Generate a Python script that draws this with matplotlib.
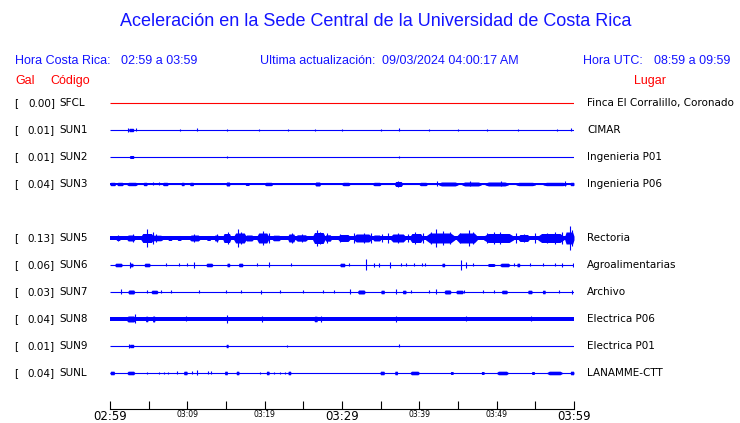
import matplotlib
matplotlib.use('Agg')
import matplotlib.pyplot as plt

# estaciones, de arriba hacia abajo (fila 4 vacia: SUN4 sin datos)
codes = ['SFCL', 'SUN1', 'SUN2', 'SUN3', 'SUN5', 'SUN6', 'SUN7', 'SUN8', 'SUN9', 'SUNL']
gals = [0.00, 0.01, 0.01, 0.04, 0.13, 0.06, 0.03, 0.04, 0.01, 0.04]
places = ['Finca El Corralillo, Coronado', 'CIMAR', 'Ingenieria P01', 'Ingenieria P06',
          'Rectoria', 'Agroalimentarias', 'Archivo', 'Electrica P06', 'Electrica P01',
          'LANAMME-CTT']
rows = [0, 1, 2, 3, 5, 6, 7, 8, 9, 10]
colors = ['red'] + ['blue'] * 9
# ruido de fondo de cada traza (media altura, unidades de traza)
band = [0, 0, 0, 1.0, 1.8, 0, 0, 2.2, 0, 0]

# rafagas: (minuto inicio, minuto fin, media altura)
sfcl_bursts = []
sun1_bursts = [(2.4, 3.1, 1.7)]
sun2_bursts = [(2.5, 3.1, 1.5)]
sun3_bursts = [(0, 0.7, 1.7), (0.9, 1.7, 1.7), (2.2, 3.5, 1.7), (4.3, 4.8, 1.7), (6.8, 7.5, 1.7),
               (9.2, 9.6, 1.7), (10.3, 10.8, 1.7), (15.0, 15.5, 2), (17.5, 18.0, 1.5),
               (20.0, 21.0, 1.7), (26.5, 27.2, 2), (30.0, 31.0, 1.7), (34.0, 35.0, 1.7),
               (36.8, 37.8, 2.5), (40, 41, 1.7), (42.5, 45, 2), (45.5, 48, 2), (48.5, 51.5, 2),
               (52.5, 55, 1.7), (56, 59, 1.7), (59.5, 60, 1.7)]
sun5_bursts = [(0.8, 1.3, 2.5), (2.2, 3.2, 3), (4.0, 5.6, 4.5), (5.2, 6.8, 2.8), (7.5, 8.0, 2.5),
               (8.7, 9.2, 2.5), (10.3, 11.6, 3), (12.5, 13.0, 2.5), (13.5, 14.0, 3),
               (14.6, 15.6, 4.5), (16.0, 17.6, 5), (17.5, 18.5, 3), (19.0, 20.5, 5),
               (21.0, 22.0, 2.8), (23.0, 23.9, 4), (24.0, 25.5, 3.2), (26.2, 27.8, 5.5),
               (27.8, 28.6, 3.2), (29.5, 31.0, 3.5), (31.5, 33.8, 4), (34.0, 35.0, 3),
               (36.3, 38.2, 4), (38.8, 40.4, 4.5), (40.8, 44.6, 5), (44.8, 47.5, 5),
               (48.3, 52.2, 4.5), (52.8, 54.2, 3.5), (55.3, 58.7, 4.5), (58.8, 60.0, 6)]
sun6_bursts = [(0.6, 1.6, 1.8), (2.5, 3.0, 1.8), (4.4, 5.2, 1.8), (12.4, 13.3, 1.8),
               (15.1, 15.5, 1.8), (16.6, 17.2, 1.8), (29.7, 30.4, 1.8), (42.9, 43.3, 1.8),
               (48.8, 49.8, 1.5), (50.4, 51.7, 1.8), (52.6, 53.0, 1.8)]
sun7_bursts = [(2.3, 3.2, 2), (5.3, 6.2, 1.8), (32.0, 33.0, 2), (35.0, 35.5, 1.8),
               (37.8, 38.3, 1.8), (43.2, 44.1, 2), (44.7, 45.7, 1.8), (50.6, 51.4, 1.8),
               (54.0, 54.6, 1.8), (55.9, 56.3, 1.8)]
sun8_bursts = [(2.2, 3.2, 3), (4.6, 4.9, 2.8), (5.5, 5.8, 3), (26.4, 26.8, 2.8)]
sun9_bursts = [(2.5, 3.1, 1.7), (15.0, 15.3, 1.7)]
sunl_bursts = [(0, 0.6, 1.8), (2.2, 3.2, 1.8), (9.5, 10.0, 1.8), (14.8, 15.2, 1.8),
               (16.3, 16.7, 1.8), (20.2, 20.6, 1.8), (23.0, 23.4, 1.8), (34.9, 35.5, 1.8),
               (36.8, 37.2, 1.8), (38.8, 40.0, 1.8), (44.0, 44.4, 1.5), (48.0, 48.4, 1.5),
               (50.0, 51.5, 1.8), (54.5, 54.9, 1.5), (56.5, 58.5, 1.8), (59.5, 60, 1.8)]

# picos: (minuto, media altura)
sfcl_spikes = []
sun1_spikes = [(2.3, 1.7), (3.4, 1.5), (9.1, 1.3), (11.3, 1.5), (15.1, 1.3), (19.3, 1.3),
               (23.0, 1.3), (26.5, 1.3), (30.0, 1.2), (35.0, 1.3), (37.4, 1.5), (41.2, 1.3),
               (45.0, 1.2), (48.8, 1.3), (52.7, 1.3), (57.8, 1.3), (59.6, 1.5)]
sun2_spikes = [(15.1, 1.3), (37.4, 1.3)]
sun3_spikes = [(5.6, 1.5), (6.3, 1.5), (37.3, 3), (42.3, 2.5), (46.5, 2.5), (50.5, 2.5), (58.8, 2.5)]
sun5_spikes = [(1.0, 3), (3.0, 4), (4.8, 9), (5.5, 6), (6.0, 4), (10.8, 4), (13.8, 4), (15.2, 6),
               (16.6, 9), (17.0, 6), (19.8, 7), (20.5, 5), (23.5, 5), (24.8, 4), (26.8, 8),
               (27.2, 6), (28.0, 5), (29.8, 4), (31.5, 5), (32.8, 5), (33.8, 5), (35.2, 4),
               (36.0, 5), (37.2, 5), (38.5, 4), (39.4, 6), (40.5, 5), (41.5, 6), (42.2, 9),
               (43.0, 7), (44.0, 6), (45.2, 5), (46.4, 8), (47.0, 6), (48.8, 5), (49.6, 6),
               (50.4, 6), (51.5, 4), (52.5, 5), (53.5, 4), (55.0, 5), (56.5, 5), (57.6, 6),
               (58.5, 6), (59.5, 12), (59.8, 8)]
sun6_spikes = [(2.6, 3), (7.3, 1.5), (8.9, 1.5), (10.0, 1.5), (10.9, 3), (19.0, 1.5), (20.5, 2.5),
               (23.4, 1.5), (30.9, 1.5), (33.1, 5.5), (34.2, 2), (34.8, 2), (36.2, 3),
               (37.6, 1.5), (38.3, 1.5), (39.3, 1.5), (40.3, 1.5), (40.7, 1.5), (45.4, 5),
               (46.0, 3), (46.9, 1.5), (52.2, 1.5), (54.3, 1.5), (56, 1.5), (57.5, 1.5),
               (58.5, 2), (59.9, 2)]
sun7_spikes = [(1.4, 2.5), (4.8, 1.5), (6.6, 1.5), (7.9, 1.5), (11.5, 1.5), (15.0, 1.5),
               (17.0, 1.5), (19.5, 1.8), (22.0, 1.5), (25.0, 1.5), (27.5, 1.5), (29.0, 1.5),
               (31.0, 2.5), (37.0, 2.5), (38.9, 1.5), (41.3, 1.5), (42.2, 2.5), (45.8, 1.5),
               (48.2, 1.5), (49.6, 1.5), (58.0, 1.5), (59.7, 2)]
sun8_spikes = [(3.2, 4.5), (9.8, 2.5), (15.1, 4), (19.7, 3), (27.3, 3), (37.0, 3), (46.0, 2.5),
               (54.4, 2.5)]
sun9_spikes = [(2.4, 1.8), (22.9, 1.2), (37.4, 1.5)]
sunl_spikes = [(4.8, 1.3), (6.4, 1.3), (7.0, 1.3), (7.5, 1.3), (8.6, 1.5), (10.6, 1.5), (11.2, 2.5),
               (12.7, 1.5), (13.0, 1.5), (19.4, 1.3), (21.2, 1.3), (22.0, 1.3), (22.6, 1.3)]

bursts = [sfcl_bursts, sun1_bursts, sun2_bursts, sun3_bursts, sun5_bursts, sun6_bursts,
          sun7_bursts, sun8_bursts, sun9_bursts, sunl_bursts]
spikes = [sfcl_spikes, sun1_spikes, sun2_spikes, sun3_spikes, sun5_spikes, sun6_spikes,
          sun7_spikes, sun8_spikes, sun9_spikes, sunl_spikes]

major_ticks = [0, 30, 60]
major_labels = ['02:59', '03:29', '03:59']
minor_ticks = [5, 10, 15, 20, 25, 35, 40, 45, 50, 55]
minor_labels = ['', '03:09', '', '03:19', '', '', '03:39', '', '03:49', '']

W, H = 740, 423
fig = plt.figure(figsize=(W / 100, H / 100), dpi=100)
ax = fig.add_axes([110 / W, 1 - 409 / H, 464 / W, 319 / H])

amp = 1 / 27.0  # una unidad de traza = 1/27 de la separacion entre filas

for k in range(len(codes)):
    y = -rows[k]
    c = colors[k]
    b = max(band[k], 0.5)
    ax.plot([0, 60], [y, y], color=c, lw=0.8, solid_capstyle='butt')
    if band[k] > 0:
        ax.fill_between([0, 60], y - band[k] * amp, y + band[k] * amp, color=c, lw=0)
    for (t0, t1, h) in bursts[k]:
        # envolvente: sube, se mantiene y baja
        r = (t1 - t0) * 0.15
        xs = [t0, t0 + r, t1 - r, t1]
        lo = [y - b * amp, y - h * amp, y - h * amp, y - b * amp]
        hi = [y + b * amp, y + h * amp, y + h * amp, y + b * amp]
        ax.fill_between(xs, lo, hi, color=c, lw=0)
    for (t, h) in spikes[k]:
        ax.vlines(t, y - h * amp, y + h * amp, color=c, lw=0.8)

ax.set_xlim(0, 60)
ax.set_ylim(0.481 - 319 / 27.0, 0.481)
for s in ['top', 'left', 'right']:
    ax.spines[s].set_visible(False)
ax.spines['bottom'].set_linewidth(0.8)
ax.set_yticks([])
ax.set_xticks(major_ticks)
ax.set_xticklabels(major_labels, fontsize=8.5)
ax.set_xticks(minor_ticks, minor=True)
ax.set_xticklabels(minor_labels, minor=True, fontsize=5.5)
ax.tick_params(axis='x', which='both', direction='in', length=6, width=0.8, pad=1)

# textos
fx = lambda x: x / W
fy = lambda y: 1 - y / H
blue = '#1414ff'
hf = 'Liberation Sans'
fig.text(fx(376), fy(22), 'Aceleración en la Sede Central de la Universidad de Costa Rica',
         ha='center', va='center', color=blue, fontsize=13, family=hf)
fig.text(fx(15), fy(61), 'Hora Costa Rica:', va='center', color=blue, fontsize=9, family=hf)
fig.text(fx(121), fy(61), '02:59 a 03:59', va='center', color=blue, fontsize=9, family=hf)
fig.text(fx(260), fy(61), 'Ultima actualización:', va='center', color=blue, fontsize=9, family=hf)
fig.text(fx(382), fy(61), '09/03/2024 04:00:17 AM', va='center', color=blue, fontsize=9, family=hf)
fig.text(fx(583), fy(61), 'Hora UTC:', va='center', color=blue, fontsize=9, family=hf)
fig.text(fx(654), fy(61), '08:59 a 09:59', va='center', color=blue, fontsize=9, family=hf)
fig.text(fx(15), fy(81), 'Gal', va='center', color='red', fontsize=9, family=hf)
fig.text(fx(50), fy(81), 'Código', va='center', color='red', fontsize=9, family=hf)
fig.text(fx(634), fy(81), 'Lugar', va='center', color='red', fontsize=9, family=hf)

for k in range(len(codes)):
    yy = 103 + 27 * rows[k]
    fig.text(fx(14), fy(yy), '[', va='center', fontsize=7.5)
    fig.text(fx(55), fy(yy), '%.2f]' % gals[k], va='center', ha='right', fontsize=7.5)
    fig.text(fx(59), fy(yy), codes[k], va='center', fontsize=7.5)
    fig.text(fx(587), fy(yy), places[k], va='center', fontsize=7.5)

fig.savefig('out.png', dpi=100)
